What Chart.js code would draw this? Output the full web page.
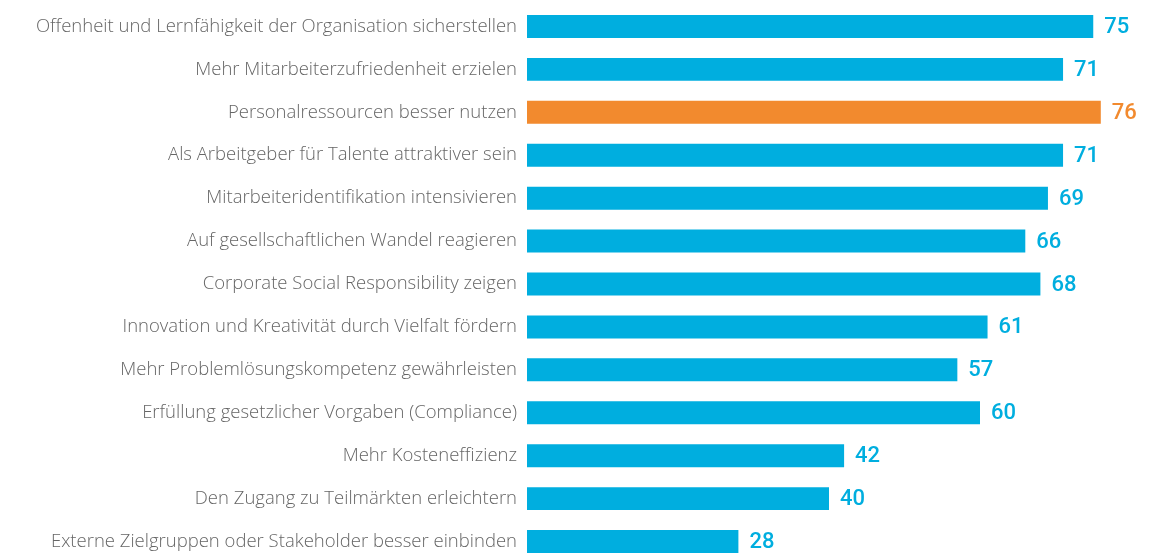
<!DOCTYPE html>
<html>
<head>
<meta charset="utf-8">
<script src="https://cdn.jsdelivr.net/npm/chart.js@4"></script>
<style>
  html, body { margin: 0; padding: 0; background: #fff; overflow: hidden; }
  canvas { display: block; }
</style>
</head>
<body>
<canvas id="chart" width="1157" height="565"></canvas>
<script>
// categories and values
var labels = [
    'Offenheit und Lernfähigkeit der Organisation sicherstellen',
    'Mehr Mitarbeiterzufriedenheit erzielen',
    'Personalressourcen besser nutzen',
    'Als Arbeitgeber für Talente attraktiver sein',
    'Mitarbeiteridentifikation intensivieren',
    'Auf gesellschaftlichen Wandel reagieren',
    'Corporate Social Responsibility zeigen',
    'Innovation und Kreativität durch Vielfalt fördern',
    'Mehr Problemlösungskompetenz gewährleisten',
    'Erfüllung gesetzlicher Vorgaben (Compliance)',
    'Mehr Kosteneffizienz',
    'Den Zugang zu Teilmärkten erleichtern',
    'Externe Zielgruppen oder Stakeholder besser einbinden'
];
var values = [75, 71, 76, 71, 69, 66, 68, 61, 57, 60, 42, 40, 28];
var highlight = 'Personalressourcen besser nutzen';

var blue = '#00aedf';
var orange = '#f28a2e';
var colors = labels.map(function (l) { return l === highlight ? orange : blue; });

// draws the number right of each bar
var valueLabels = {
    id: 'valueLabels',
    afterDatasetsDraw: function (chart) {
        var ctx = chart.ctx;
        var meta = chart.getDatasetMeta(0);
        ctx.save();
        ctx.font = '500 22px Roboto, "Open Sans", sans-serif';
        ctx.textBaseline = 'middle';
        ctx.textAlign = 'left';
        meta.data.forEach(function (bar, i) {
            ctx.fillStyle = colors[i];
            ctx.fillText(values[i], bar.x + 11, bar.y + 1);
        });
        ctx.restore();
    }
};

new Chart(document.getElementById('chart'), {
    type: 'bar',
    data: {
        labels: labels,
        datasets: [{
            data: values,
            backgroundColor: colors,
            borderWidth: 0,
            categoryPercentage: 1,
            barPercentage: 0.535
        }]
    },
    options: {
        indexAxis: 'y',
        responsive: false,
        animation: false,
        layout: { padding: { top: 5, right: 26, bottom: 2, left: 0 } },
        plugins: {
            legend: { display: false },
            tooltip: { enabled: false }
        },
        scales: {
            x: {
                display: false,
                min: 0,
                max: 80
            },
            y: {
                grid: { display: false, drawTicks: false },
                border: { display: false },
                ticks: {
                    padding: 10,
                    color: '#666666',
                    font: { family: '"Open Sans", sans-serif', size: 18.5, weight: 300 }
                },
                afterFit: function (scale) {
                    scale.width = 527;
                    scale.paddingTop = 0;
                    scale.paddingBottom = 0;
                }
            }
        }
    },
    plugins: [valueLabels]
});
</script>
</body>
</html>
